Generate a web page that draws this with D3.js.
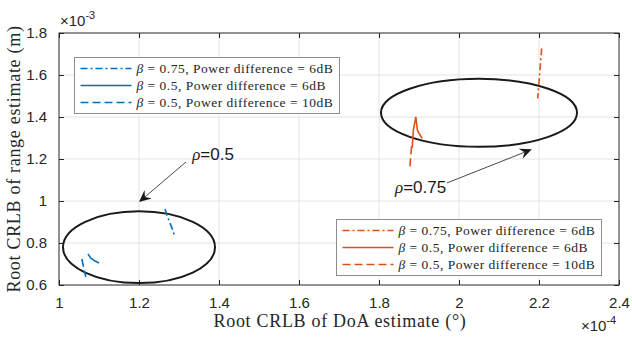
<!DOCTYPE html>
<html>
<head>
<meta charset="utf-8">
<script src="https://cdn.jsdelivr.net/npm/d3@7"></script>
<style>
  body { margin: 0; background: #fff; }
  svg { display: block; }
</style>
</head>
<body>
<div id="chart"></div>
<script>
// axis ticks (x in 1e-4 deg, y in 1e-3 m)
let xTicks = [1, 1.2, 1.4, 1.6, 1.8, 2, 2.2, 2.4];
let xTickLabels = ["1", "1.2", "1.4", "1.6", "1.8", "2", "2.2", "2.4"];
let yTicks = [0.6, 0.8, 1, 1.2, 1.4, 1.6, 1.8];
let yTickLabels = ["0.6", "0.8", "1", "1.2", "1.4", "1.6", "1.8"];

// rho = 0.5 group (blue)
let b075x = [1.265, 1.2725, 1.2825, 1.29];
let b075y = [0.962, 0.919, 0.871, 0.829];
let b05x = [1.0725, 1.079, 1.09, 1.1];
let b05y = [0.748, 0.729, 0.714, 0.705];
let b05dBx = [1.057, 1.062, 1.067];
let b05dBy = [0.724, 0.68, 0.638];

// rho = 0.75 group (orange)
let o075x = [2.2067, 2.2025, 2.1967];
let o075y = [1.727, 1.624, 1.489];
let o05x = [1.883, 1.886, 1.892, 1.896, 1.9, 1.908];
let o05y = [1.254, 1.338, 1.401, 1.338, 1.322, 1.299];
let o05dBx = [1.8815, 1.879, 1.8775];
let o05dBy = [1.26, 1.21, 1.165];

let legendLabels = [
  " = 0.75, Power difference = 6dB",
  " = 0.5, Power difference = 6dB",
  " = 0.5, Power difference = 10dB"
];

let blue = "#0072BD";
let orange = "#D95319";
let axisColor = "#262626";

let width = 632;
let height = 337;
let margin = {top: 33, right: 13, bottom: 52, left: 59};

let svg = d3.select("#chart").append("svg")
  .attr("width", width)
  .attr("height", height);

let x = d3.scaleLinear().domain([1, 2.4]).range([margin.left, width - margin.right]);
let y = d3.scaleLinear().domain([0.6, 1.8]).range([height - margin.bottom, margin.top]);

let sans = "'Liberation Sans', Arial, sans-serif";
let serif = "'Liberation Serif', 'Times New Roman', serif";

// grid
svg.append("g").selectAll("line")
  .data(xTicks.slice(1, -1))
  .enter().append("line")
  .attr("x1", d => x(d)).attr("x2", d => x(d))
  .attr("y1", y(1.8)).attr("y2", y(0.6))
  .attr("stroke", "#e3e3e3");
svg.append("g").selectAll("line")
  .data(yTicks.slice(1, -1))
  .enter().append("line")
  .attr("y1", d => y(d)).attr("y2", d => y(d))
  .attr("x1", x(1)).attr("x2", x(2.4))
  .attr("stroke", "#e3e3e3");

// axes
function styleAxis(g) {
  g.select(".domain").remove();
  g.selectAll(".tick line").attr("stroke", axisColor);
  g.selectAll(".tick text")
    .attr("fill", axisColor)
    .style("font-family", sans)
    .style("font-size", "15px");
}

svg.append("g")
  .attr("transform", `translate(0,${y(0.6)})`)
  .call(d3.axisBottom(x).tickValues(xTicks).tickSize(-5).tickPadding(12)
    .tickFormat((d, i) => xTickLabels[i]))
  .call(styleAxis);
svg.append("g")
  .attr("transform", `translate(0,${y(1.8)})`)
  .call(d3.axisTop(x).tickValues(xTicks).tickSize(-5).tickFormat(""))
  .call(styleAxis);
svg.append("g")
  .attr("transform", `translate(${x(1)},0)`)
  .call(d3.axisLeft(y).tickValues(yTicks).tickSize(-5).tickPadding(12)
    .tickFormat((d, i) => yTickLabels[i]))
  .call(styleAxis);
svg.append("g")
  .attr("transform", `translate(${x(2.4)},0)`)
  .call(d3.axisRight(y).tickValues(yTicks).tickSize(-5).tickFormat(""))
  .call(styleAxis);

svg.append("rect")
  .attr("x", x(1)).attr("y", y(1.8))
  .attr("width", x(2.4) - x(1)).attr("height", y(0.6) - y(1.8))
  .attr("fill", "none").attr("stroke", axisColor).attr("stroke-width", 1);

// exponents
let e3 = svg.append("text").attr("x", x(1) + 1).attr("y", y(1.8) - 7)
  .attr("fill", axisColor).style("font-family", sans).style("font-size", "15px");
e3.append("tspan").text("\u00d710");
e3.append("tspan").attr("dy", -7).style("font-size", "11px").text("-3");

let e4 = svg.append("text").attr("x", x(2.4) - 38).attr("y", height - 6)
  .attr("fill", axisColor).style("font-family", sans).style("font-size", "15px");
e4.append("tspan").text("\u00d710");
e4.append("tspan").attr("dy", -7).style("font-size", "11px").text("-4");

// axis labels
svg.append("text")
  .attr("x", (x(1) + x(2.4)) / 2 + 1).attr("y", height - 10)
  .attr("text-anchor", "middle").attr("fill", axisColor)
  .style("font-family", serif).style("font-size", "18px").style("letter-spacing", "0.7px")
  .text("Root CRLB of DoA estimate (\u00b0)");
svg.append("text")
  .attr("transform", `translate(20,${(y(0.6) + y(1.8)) / 2}) rotate(-90)`)
  .attr("text-anchor", "middle").attr("fill", axisColor)
  .style("font-family", serif).style("font-size", "18px").style("letter-spacing", "0.7px")
  .text("Root CRLB of range estimate (m)");

// ellipses
let ellipses = [
  {c: [1.2, 0.78], r: [0.19, 0.171]},
  {c: [2.05, 1.42], r: [0.245, 0.162]}
];
svg.append("g").selectAll("ellipse")
  .data(ellipses)
  .enter().append("ellipse")
  .attr("cx", d => x(d.c[0])).attr("cy", d => y(d.c[1]))
  .attr("rx", d => x(d.c[0] + d.r[0]) - x(d.c[0]))
  .attr("ry", d => y(d.c[1]) - y(d.c[1] + d.r[1]))
  .attr("fill", "none").attr("stroke", "#1a1a1a").attr("stroke-width", 2);

// series
let dashes = {dashdot: "7,3,2,3", solid: null, dashed: "8,4"};
let series = [
  {xs: b075x, ys: b075y, color: blue, style: "dashdot"},
  {xs: b05x, ys: b05y, color: blue, style: "solid"},
  {xs: b05dBx, ys: b05dBy, color: blue, style: "dashed"},
  {xs: o075x, ys: o075y, color: orange, style: "dashdot"},
  {xs: o05x, ys: o05y, color: orange, style: "solid"},
  {xs: o05dBx, ys: o05dBy, color: orange, style: "dashed"}
];
let line = d3.line().x(d => x(d[0])).y(d => y(d[1]));
svg.append("g").selectAll("path")
  .data(series)
  .enter().append("path")
  .attr("d", d => line(d.xs.map((v, i) => [v, d.ys[i]])))
  .attr("fill", "none")
  .attr("stroke", d => d.color)
  .attr("stroke-width", 1.6)
  .attr("stroke-dasharray", d => dashes[d.style]);

// arrows with rho labels
let arrows = [
  {from: [1.3175, 1.186], to: [1.2, 0.995], label: "0.5", at: [1.333, 1.195]},
  {from: [1.97, 1.086], to: [2.182, 1.246], label: "0.75", at: [1.84, 1.038]}
];
arrows.forEach(a => {
  let x0 = x(a.from[0]), y0 = y(a.from[1]);
  let x1 = x(a.to[0]), y1 = y(a.to[1]);
  let ang = Math.atan2(y1 - y0, x1 - x0);
  let len = 12, hw = 5.5;
  let bx = x1 - len * Math.cos(ang), by = y1 - len * Math.sin(ang);
  let nx = x1 - len * 0.65 * Math.cos(ang), ny = y1 - len * 0.65 * Math.sin(ang);
  let px = -Math.sin(ang), py = Math.cos(ang);
  svg.append("line")
    .attr("x1", x0).attr("y1", y0).attr("x2", nx).attr("y2", ny)
    .attr("stroke", "#1a1a1a").attr("stroke-width", 0.8);
  svg.append("path")
    .attr("d", `M${x1},${y1}L${bx + px * hw},${by + py * hw}L${nx},${ny}L${bx - px * hw},${by - py * hw}Z`)
    .attr("fill", "#1a1a1a");
  let t = svg.append("text").attr("x", x(a.at[0])).attr("y", y(a.at[1]))
    .attr("fill", "#1a1a1a").style("font-family", sans).style("font-size", "17px");
  t.append("tspan").style("font-family", serif).style("font-style", "italic").text("\u03c1");
  t.append("tspan").text("=" + a.label);
});

// legends
function drawLegend(lx, ly, color) {
  let w = 265, h = 56, rowH = 17;
  let g = svg.append("g").attr("transform", `translate(${lx},${ly})`);
  g.append("rect").attr("width", w).attr("height", h)
    .attr("fill", "#fff").attr("stroke", "#8c8c8c").attr("stroke-width", 1);
  ["dashdot", "solid", "dashed"].forEach((s, i) => {
    let cy = 11 + i * rowH;
    g.append("line").attr("x1", 6).attr("x2", 57).attr("y1", cy).attr("y2", cy)
      .attr("stroke", color).attr("stroke-width", 1.6)
      .attr("stroke-dasharray", dashes[s]);
    let t = g.append("text").attr("x", 62).attr("y", cy + 4.5)
      .attr("fill", axisColor).style("font-family", serif)
      .style("font-size", "13.5px").style("letter-spacing", "0.5px");
    t.append("tspan").style("font-style", "italic").text("\u03b2");
    t.append("tspan").text(legendLabels[i]);
  });
}
drawLegend(74.5, 57.5, blue);
drawLegend(336.5, 219.5, orange);
</script>
</body>
</html>
